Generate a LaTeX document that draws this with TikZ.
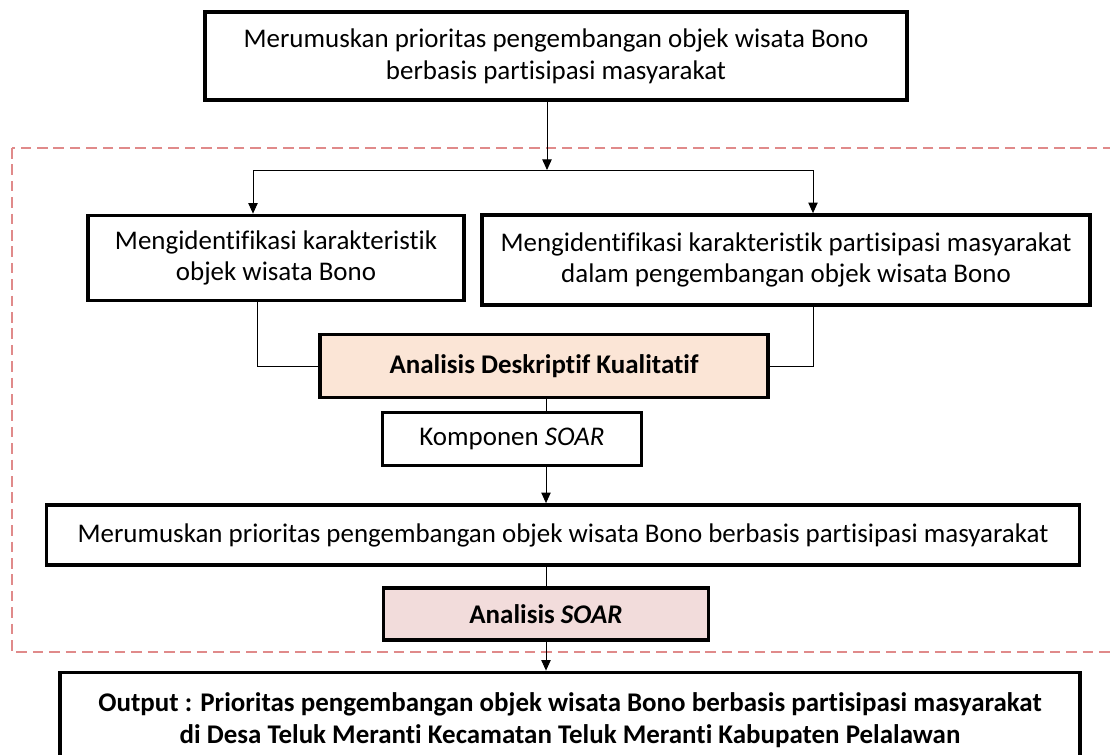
\documentclass[tikz,border=0pt]{standalone}
\usepackage{fontspec}
\setmainfont{Carlito}[Ligatures=NoCommon]
\usetikzlibrary{arrows.meta}
\definecolor{peach}{HTML}{FBE5D6}
\definecolor{rose}{HTML}{F2DCDB}
\definecolor{dashred}{HTML}{E08A8A}

\begin{document}
\begin{tikzpicture}[x=0.03cm,y=-0.03cm,
  box/.style={draw,line width=3.2pt,align=center,inner sep=0pt,
    font=\fontsize{23}{27}\selectfont},
  link/.style={line width=0.8pt},
  arr/.style={link,-{Triangle[length=9pt,width=8pt]}}]

\useasboundingbox (0,0) rectangle (1110,755);

% Dashed frame
\draw[dashred,line width=1pt,dash pattern=on 9pt off 5pt] (12,148) rectangle (1125,652);

% Boxes
\node[box,minimum width=21.06cm,minimum height=2.64cm] (top) at (556,56)
  {Merumuskan prioritas pengembangan objek wisata Bono\\berbasis partisipasi masyarakat};
\node[box,minimum width=11.28cm,minimum height=2.55cm] (ident1) at (276,258)
  {Mengidentifikasi karakteristik\\objek wisata Bono};
\node[box,minimum width=18.24cm,minimum height=2.7cm] (ident2) at (786,260)
  {Mengidentifikasi karakteristik partisipasi masyarakat\\dalam pengembangan objek wisata Bono};
\node[box,fill=peach,minimum width=13.44cm,minimum height=1.89cm] (desk) at (544,366)
  {\bfseries Analisis Deskriptif Kualitatif};
\node[box,minimum width=7.77cm,minimum height=1.59cm] (komp) at (512,439)
  {Komponen \textit{SOAR}};
\node[box,minimum width=30.99cm,minimum height=1.8cm] (rumus) at (563,535)
  {Merumuskan prioritas pengembangan objek wisata Bono berbasis partisipasi masyarakat};
\node[box,fill=rose,minimum width=9.75cm,minimum height=1.56cm] (soar) at (546,614)
  {\bfseries Analisis \textit{SOAR}};
\node[box,minimum width=30.6cm,minimum height=2.85cm] (out) at (570,720)
  {\bfseries Output : Prioritas pengembangan objek wisata Bono berbasis partisipasi masyarakat\\
   \bfseries di Desa Teluk Meranti Kecamatan Teluk Meranti Kabupaten Pelalawan};

% Connectors
\coordinate (split) at (547,170);
\coordinate (splitL) at (253,170);
\coordinate (splitR) at (813,170);
\coordinate (joinL) at (257,0);
\coordinate (joinR) at (813,0);
\coordinate (spine) at (546,0);

\draw[arr] (top.south -| split) -- (split);
\draw[link] (splitL) -- (splitR);
\draw[arr] (splitL) -- (splitL |- ident1.north);
\draw[arr] (splitR) -- (splitR |- ident2.north);
\draw[link] (ident1.south -| joinL) |- (desk.west);
\draw[link] (ident2.south -| joinR) |- (desk.east);
\draw[link] (desk.south -| spine) -- (komp.north -| spine);
\draw[arr] (komp.south -| spine) -- (rumus.north -| spine);
\draw[link] (rumus.south -| spine) -- (soar.north -| spine);
\draw[arr] (soar.south -| spine) -- (out.north -| spine);

\end{tikzpicture}
\end{document}
